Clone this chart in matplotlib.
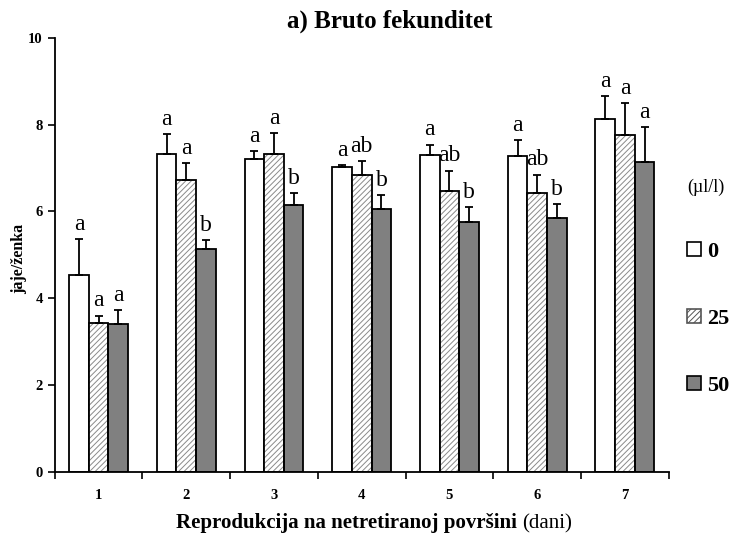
import numpy as np
import matplotlib
matplotlib.use("Agg")
import matplotlib.pyplot as plt
from matplotlib.patches import Patch

plt.rcParams['font.family'] = ['Liberation Serif', 'DejaVu Serif']
plt.rcParams['hatch.linewidth'] = 0.7

days = ['1', '2', '3', '4', '5', '6', '7']
doses = ['0', '25', '50']

mean_0 = [4.54, 7.33, 7.20, 7.03, 7.29, 7.28, 8.12]
mean_25 = [3.44, 6.73, 7.33, 6.84, 6.47, 6.43, 7.75]
mean_50 = [3.41, 5.13, 6.15, 6.05, 5.76, 5.84, 7.14]

err_0 = [0.83, 0.46, 0.19, 0.03, 0.25, 0.37, 0.53]
err_25 = [0.16, 0.38, 0.47, 0.33, 0.47, 0.42, 0.74]
err_50 = [0.31, 0.21, 0.27, 0.32, 0.34, 0.33, 0.80]

letters_0 = ['a', 'a', 'a', 'a', 'a', 'a', 'a']
letters_25 = ['a', 'a', 'a', 'ab', 'ab', 'ab', 'a']
letters_50 = ['a', 'b', 'b', 'b', 'b', 'b', 'a']

fig = plt.figure(figsize=(7.39, 5.4), dpi=100)
ax = fig.add_axes([0.074, 0.126, 0.831, 0.804])

x = np.arange(1, len(days) + 1)
w = 0.224
means = [mean_0, mean_25, mean_50]
errs = [err_0, err_25, err_50]
letters = [letters_0, letters_25, letters_50]

for i in range(3):
    xs = x + (i - 1) * w
    if i == 0:
        ax.bar(xs, means[i], w, color='white', edgecolor='black', linewidth=1.3, zorder=2)
    elif i == 1:
        ax.bar(xs, means[i], w, color='white', edgecolor='#8a8a8a', hatch='//////', linewidth=0, zorder=2)
        ax.bar(xs, means[i], w, color='none', edgecolor='black', linewidth=1.3, zorder=3)
    else:
        ax.bar(xs, means[i], w, color='#808080', edgecolor='black', linewidth=1.3, zorder=2)
    ax.errorbar(xs, means[i], yerr=[np.zeros(len(days)), errs[i]], fmt='none',
                ecolor='black', elinewidth=1.3, capsize=3, capthick=1.3, zorder=4)
    for xi, m, e, t in zip(xs, means[i], errs[i], letters[i]):
        ax.annotate(t, (xi, m + e), xytext=(0, 3), textcoords='offset points',
                    ha='center', va='bottom', fontsize=17)

ax.set_xlim(0.5, 7.5)
ax.set_ylim(0, 10)
ax.set_yticks(np.arange(0, 11, 2))
ax.set_xticks(x)
ax.set_xticklabels(days, fontweight='bold', fontsize=10.5)
ax.set_xticks(np.arange(0.5, 8, 1), minor=True)
ax.tick_params(axis='x', which='major', length=0, pad=12)
ax.tick_params(axis='x', which='minor', length=5, width=1.2, direction='out')
ax.tick_params(axis='y', length=5, width=1.2, direction='out', labelsize=10.5)
for lab in ax.get_yticklabels():
    lab.set_fontweight('bold')
ax.spines['top'].set_visible(False)
ax.spines['right'].set_visible(False)
ax.spines['left'].set_linewidth(1.3)
ax.spines['bottom'].set_linewidth(1.3)

fig.text(0.528, 0.96, 'a) Bruto fekunditet', fontweight='bold', fontsize=18,
         ha='center', va='center')
ax.set_ylabel('jaje/ženka', fontweight='bold', fontsize=11.5)
ax.yaxis.set_label_coords(-0.045, 0.49)

fig.text(0.700, 0.022, 'Reprodukcija na netretiranoj površini', fontweight='bold',
         fontsize=15, ha='right', va='baseline')
fig.text(0.706, 0.022, '(dani)', fontsize=15, ha='left', va='baseline')

handles = [Patch(facecolor='white', edgecolor='black', linewidth=1.2),
           Patch(facecolor='white', edgecolor='#555555', hatch='//////', linewidth=1.2),
           Patch(facecolor='#808080', edgecolor='black', linewidth=1.2)]
leg = fig.legend(handles, doses, loc='upper left', bbox_to_anchor=(0.930, 0.67),
                 frameon=False, title='(µl/l)', title_fontsize=13,
                 prop={'weight': 'bold', 'size': 16}, handlelength=0.6,
                 handleheight=0.6, handletextpad=0.3, labelspacing=2.1,
                 borderpad=0, borderaxespad=0)
leg._legend_box.align = 'left'

fig.savefig('out.png', dpi=100)
